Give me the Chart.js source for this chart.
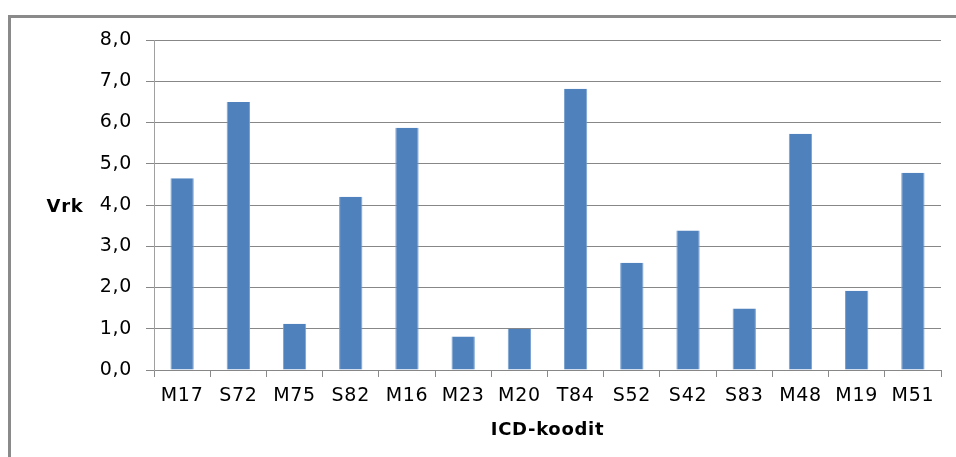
<!DOCTYPE html>
<html>
<head>
<meta charset="utf-8">
<script src="https://cdn.jsdelivr.net/npm/chart.js@4/dist/chart.umd.min.js"></script>
<style>
html,body{margin:0;padding:0;background:#fff;overflow:hidden;}
canvas{display:block;}
</style>
</head>
<body>
<canvas id="c" width="956" height="457"></canvas>
<script>
const categories = ["M17","S72","M75","S82","M16","M23","M20","T84","S52","S42","S83","M48","M19","M51"];
const values = [4.65, 6.50, 1.12, 4.20, 5.87, 0.81, 1.00, 6.82, 2.60, 3.38, 1.49, 5.73, 1.92, 4.78];
const yTitle = "Vrk";
const xTitle = "ICD-koodit";
const yMin = 0, yMax = 8, yStep = 1;

const FONT = "'DejaVu Sans', Verdana, sans-serif";
const SPACING = '0.7px';

const spacingPlugin = {
  id: 'spacing',
  beforeLayout(chart){ chart.ctx.letterSpacing = SPACING; },
  beforeDraw(chart){
    const ctx = chart.ctx;
    ctx.letterSpacing = SPACING;
    ctx.save();
    ctx.fillStyle = '#8a8a8a';
    ctx.fillRect(8, 15, chart.width - 8, 3);
    ctx.fillRect(8, 15, 3, chart.height - 15);
    ctx.restore();
  },
  afterDraw(chart){
    const ctx = chart.ctx;
    const a = chart.chartArea;
    ctx.save();
    ctx.letterSpacing = SPACING;
    ctx.font = "bold 18px " + FONT;
    ctx.fillStyle = '#000';
    ctx.textAlign = 'center';
    ctx.textBaseline = 'middle';
    ctx.fillText(yTitle, 65, (a.top + a.bottom) / 2 + 2);
    ctx.restore();
  }
};

new Chart(document.getElementById('c'), {
  type: 'bar',
  data: {
    labels: categories,
    datasets: [{
      data: values,
      backgroundColor: '#4F81BD',
      borderColor: '#78A0CF',
      borderWidth: {left:1, right:1, top:0, bottom:0},
      borderSkipped: false,
      categoryPercentage: 1,
      barPercentage: 0.415
    }]
  },
  options: {
    responsive: false,
    animation: false,
    devicePixelRatio: 1,
    layout: { padding: { left: 0, top: 40, right: 15, bottom: 0 } },
    plugins: { legend: { display: false }, tooltip: { enabled: false } },
    scales: {
      x: {
        grid: { offset: true, drawOnChartArea: false, drawTicks: true, tickLength: 7, color: '#8a8a8a' },
        border: { display: false },
        ticks: { color: '#000', font: { family: FONT, size: 19 }, padding: 8, maxRotation: 0, autoSkip: false },
        title: { display: true, text: xTitle, color: '#000', font: { family: FONT, size: 18, weight: 'bold' }, padding: { top: 4, bottom: 16 } },
        afterFit(s){ s.height = 87; }
      },
      y: {
        min: yMin, max: yMax,
        grid: { color: '#878787', lineWidth: 1, tickLength: 8, drawTicks: true },
        border: { display: true, color: '#a0a0a0' },
        ticks: {
          stepSize: yStep, color: '#000', font: { family: FONT, size: 19 }, padding: 14,
          callback: v => v.toFixed(1).replace('.', ',')
        },
        afterFit(s){ s.width = 154; }
      }
    }
  },
  plugins: [spacingPlugin]
});
</script>
</body>
</html>
